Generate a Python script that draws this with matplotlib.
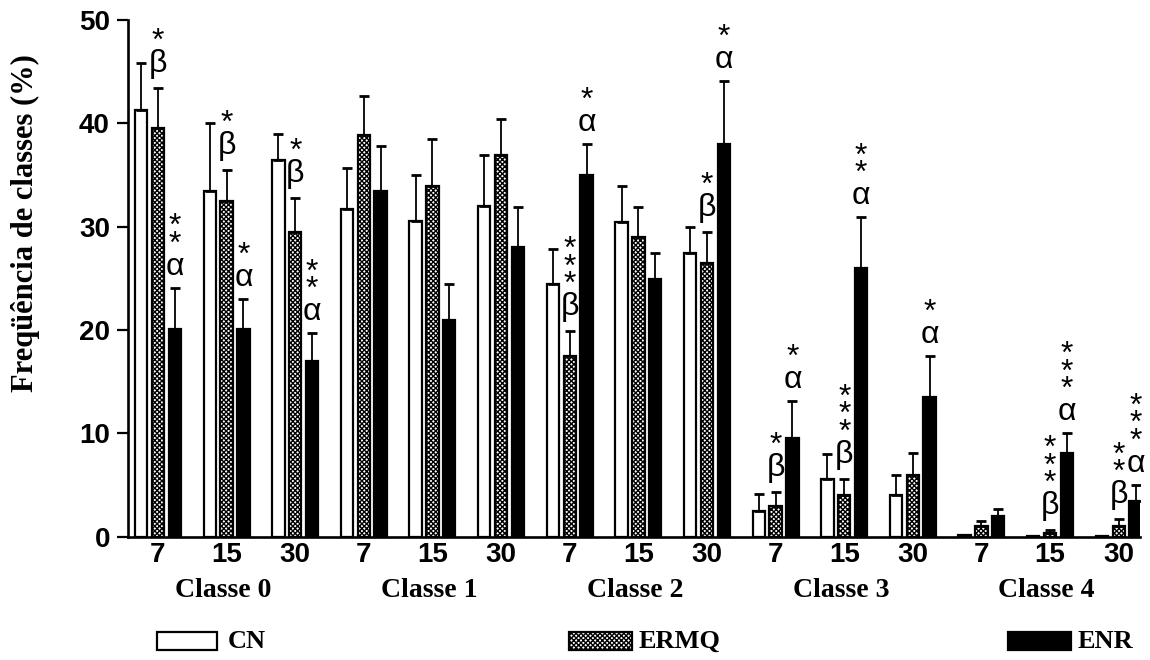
import numpy as np
import matplotlib
matplotlib.use("Agg")
import matplotlib.pyplot as plt
from matplotlib.patches import Rectangle
from matplotlib.transforms import blended_transform_factory

# ---------------- data ----------------
classes = ["Classe 0", "Classe 1", "Classe 2", "Classe 3", "Classe 4"]
days = ["7", "15", "30"]
series_names = ["CN", "ERMQ", "ENR"]

cn_mean = [41.3, 33.4, 36.4, 31.7, 30.5, 32.0, 24.4, 30.4, 27.4, 2.5, 5.6, 4.0, 0.1, 0.05, 0.05]
cn_sem = [4.5, 6.6, 2.6, 4.0, 4.5, 4.9, 3.4, 3.5, 2.6, 1.6, 2.4, 2.0, 0.0, 0.0, 0.0]
ermq_mean = [39.5, 32.5, 29.5, 38.9, 33.9, 36.9, 17.5, 29.0, 26.5, 3.0, 4.0, 6.0, 1.0, 0.35, 1.0]
ermq_sem = [3.9, 3.0, 3.3, 3.7, 4.6, 3.5, 2.4, 2.9, 3.0, 1.3, 1.6, 2.1, 0.5, 0.25, 0.7]
enr_mean = [20.1, 20.1, 17.0, 33.4, 21.0, 28.0, 35.0, 24.9, 38.0, 9.5, 26.0, 13.5, 2.0, 8.1, 3.4]
enr_sem = [4.0, 2.9, 2.7, 4.4, 3.4, 3.9, 3.0, 2.5, 6.1, 3.6, 4.9, 4.0, 0.7, 1.9, 1.6]

# significance marks: (group index, series index, marks -> stars then letter)
annotations = [
    (0, 1, "*β"), (0, 2, "**α"),
    (1, 1, "*β"), (1, 2, "*α"),
    (2, 1, "*β"), (2, 2, "**α"),
    (6, 1, "***β"), (6, 2, "*α"),
    (8, 1, "*β"), (8, 2, "*α"),
    (9, 1, "*β"), (9, 2, "*α"),
    (10, 1, "***β"), (10, 2, "**α"),
    (11, 2, "*α"),
    (13, 1, "***β"), (13, 2, "***α"),
    (14, 1, "**β"), (14, 2, "***α"),
]

# ---------------- figure ----------------
plt.rcParams["hatch.linewidth"] = 1.0
fig = plt.figure(figsize=(11.5, 6.6), dpi=100)
ax = fig.add_axes([0.1113, 0.1871, 0.88, 0.7826])

n = len(cn_mean)
x = np.arange(n)
w = 0.18
off = 0.245
means = [cn_mean, ermq_mean, enr_mean]
sems = [cn_sem, ermq_sem, enr_sem]
faces = ["white", "white", "black"]
hatches = [None, "xxxxxxx", None]

for k in range(3):
    xs = x + (k - 1) * off
    ax.bar(xs, means[k], width=w, color=faces[k], edgecolor="black",
           linewidth=1.6, hatch=hatches[k], zorder=2)
    m = np.array(means[k])
    s = np.array(sems[k], dtype=float)
    s_plot = np.where(s > 0, s, np.nan)
    ax.errorbar(xs, m, yerr=[np.zeros(n), s_plot], fmt="none", ecolor="black",
                elinewidth=1.3, capsize=3.5, capthick=2.0, zorder=3)

# significance annotations
PX = 0.72  # points per pixel at 100 dpi
FS = 23
for gi, si, marks in annotations:
    xs = gi + (si - 1) * off
    top = means[si][gi] + sems[si][gi]
    letter = marks[-1]
    nstars = len(marks) - 1
    center = 21 if letter == "α" else 24
    ax.annotate(letter, xy=(xs, top), xytext=(0, (center - 8) * PX),
                textcoords="offset points", ha="center", va="baseline",
                fontsize=FS, family="Liberation Sans", zorder=4)
    for j in range(nstars):
        c = center + 22 + 17.5 * j
        ax.annotate("*", xy=(xs, top), xytext=(0, (c - 8) * PX),
                    textcoords="offset points", ha="center", va="baseline",
                    fontsize=FS, family="Liberation Sans", zorder=4)

ax.set_xlim(-0.437, 14.31)
ax.set_ylim(0, 50)
ax.set_yticks([0, 10, 20, 30, 40, 50])
ax.set_xticks(x)
ax.set_xticklabels(days * len(classes))
for lab in ax.get_xticklabels() + ax.get_yticklabels():
    lab.set_fontfamily("Liberation Sans")
    lab.set_fontweight("bold")
    lab.set_fontsize(20)
ax.tick_params(axis="x", length=0, pad=4)
ax.tick_params(axis="y", length=8, width=1.6, pad=5, direction="out")
for side in ["top", "right"]:
    ax.spines[side].set_visible(False)
for side in ["left", "bottom"]:
    ax.spines[side].set_linewidth(1.9)

trans = blended_transform_factory(ax.transData, ax.transAxes)
for ci, cname in enumerate(classes):
    ax.text(ci * 3 + 1 - 0.05, -0.104, cname, transform=trans, ha="center",
            va="center", fontsize=20, fontweight="bold", family="Liberation Serif")

fig.text(25 / 1150, 1 - 223 / 660, "Freqüência de classes (%)", rotation=90,
         ha="center", va="center", fontsize=22, fontweight="bold",
         family="Liberation Serif")

# legend
W, H = 1150.0, 660.0
legend_items = [(157, 217, 228), (569, 632, 639), (1008, 1071, 1078)]
for k, (x0, x1, tx) in enumerate(legend_items):
    rect = Rectangle((x0 / W, 1 - 650 / H), (x1 - x0) / W, 18 / H,
                     transform=fig.transFigure, facecolor=faces[k],
                     edgecolor="black", linewidth=1.6, hatch=hatches[k])
    fig.patches.append(rect)
    fig.text(tx / W, 1 - 641 / H, series_names[k], ha="left", va="center",
             fontsize=19, fontweight="bold", family="Liberation Serif")

fig.savefig("out.png", dpi=100)
